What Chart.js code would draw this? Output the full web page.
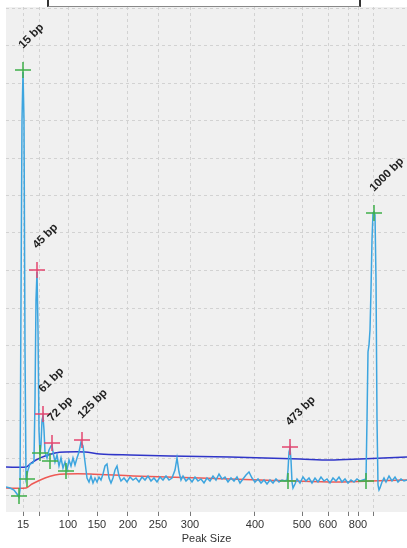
<!DOCTYPE html>
<html><head><meta charset="utf-8">
<script src="https://cdn.jsdelivr.net/npm/chart.js@4.4.1/dist/chart.umd.min.js"></script>
<style>
html,body{margin:0;padding:0;background:#fff;}
#wrap{position:relative;width:407px;height:548px;overflow:hidden;}
#box{position:absolute;left:47px;top:-10px;width:310px;height:14px;border:2px solid #333;border-bottom:1px solid #888;background:#fff;}
canvas{position:absolute;left:0;top:0;}
</style></head><body>
<div id="wrap"><canvas id="c" width="407" height="548"></canvas><div id="box"></div></div>
<script>
// Scan position (x) and signal (y) of the electropherogram trace
const traceX = [6,10,14,17,19,20,21,22,23,24,25,26,28,30,33,34,35,36,37,38,39,40,41,42,43,44,45,47,49,51,52,53,55,57,59,61,63,65,67,69,71,73,75,77,79,81,83,85,87,89,91,93,95,97,99,101,103,105,107,109,111,113,115,117,119,121,124,127,130,133,136,139,142,145,148,151,154,157,160,163,166,169,172,175,177,179,181,183,186,189,192,195,198,201,204,207,210,213,216,219,222,225,228,231,234,237,240,243,246,249,252,255,258,261,264,267,270,273,276,279,282,285,287,288,289,290,291,292,293,295,297,300,303,306,309,312,315,318,321,324,327,330,333,336,339,342,345,348,351,354,357,360,363,366,367,368,369,370,371,372,373,374,375,376,377,378,379,380,382,384,386,389,392,395,398,401,404,407];
const traceY = [25,24,22,18,15,22,212,392,440,392,162,34,42,48,49,52,112,212,240,182,82,57,67,92,96,82,60,54,62,66,67,60,50,57,46,54,44,50,42,52,46,54,47,54,60,70,66,50,34,30,36,29,34,30,35,32,38,46,48,34,29,34,42,46,36,31,34,30,35,32,34,30,35,32,36,31,34,30,35,32,36,32,34,42,54,40,32,36,31,34,30,35,31,33,29,34,31,36,32,38,33,35,30,34,31,35,29,33,37,40,34,30,33,29,32,28,32,29,33,30,32,31,32,42,60,64,52,30,24,28,33,29,35,31,34,29,34,30,35,31,33,29,34,31,35,30,33,29,32,30,33,31,32,33,92,160,167,182,222,272,299,300,297,232,92,27,22,24,30,34,30,36,31,35,30,33,31,32];
// Baselines
const upperX = [6,26,30,36,45,55,65,85,100,130,170,230,300,330,360,407];
const upperY = [45,45,48,52,56,59,60,60,58,57,56,55,53,52,53,55];
const lowerX = [6,26,32,45,55,65,90,133,200,260,330,370,407];
const lowerY = [24,24,28,34,37,38,38,36,34,32,30,31,32];
// Peak markers
const greenX = [23,374,19,27,40,50,66,288,366];
const greenY = [442,299,16,33,59,51,41,31,31];
const redX = [37,43,52,82,290];
const redY = [242,98,69,72,65];
// Peak labels
const peakLabels = ["15 bp","45 bp","61 bp","72 bp","125 bp","473 bp","1000 bp"];
const peakLabelX = [23,37,43,52,82,290,374];
const peakLabelY = [442,242,98,69,72,65,299];
// Size axis
const sizeTickPos = [23,39,68,97,128,158,190,255,302,328,348,358,373];
const sizeTickLabels = ["15","","100","150","200","250","300","400","500","600","","800",""];
const gridY = [16.5,54,91.5,129,166.5,204,241.5,279,316.5,354,391.5,429,466.5,504];

const pts = (xs, ys) => xs.map((x,i)=>({x:x,y:ys[i]}));

const bgPlugin = {
  id:'bg',
  beforeDraw(chart){
    const a = chart.chartArea, ctx = chart.ctx;
    ctx.save(); ctx.fillStyle = '#f0f0f0';
    ctx.fillRect(a.left, a.top, a.right-a.left, a.bottom-a.top);
    ctx.restore();
  }
};
const labelPlugin = {
  id:'peakLabels',
  afterDatasetsDraw(chart){
    const ctx = chart.ctx, xs = chart.scales.x, ys = chart.scales.y;
    ctx.save();
    ctx.font = 'bold 11.5px "Liberation Sans", Arial, sans-serif';
    ctx.fillStyle = '#222';
    ctx.textAlign = 'left'; ctx.textBaseline = 'alphabetic';
    peakLabels.forEach((t,i)=>{
      const px = xs.getPixelForValue(peakLabelX[i]);
      const py = ys.getPixelForValue(peakLabelY[i]);
      ctx.save();
      ctx.translate(px, py - 21);
      ctx.rotate(-Math.PI/4);
      ctx.fillText(t, 0, 0);
      ctx.restore();
    });
    ctx.restore();
  }
};

new Chart(document.getElementById('c'), {
  type:'scatter',
  data:{datasets:[
    {label:'green', data:pts(greenX,greenY), pointStyle:'cross', radius:8, borderColor:'#3faf4a', borderWidth:1.5, backgroundColor:'#3faf4a', showLine:false},
    {label:'red', data:pts(redX,redY), pointStyle:'cross', radius:8, borderColor:'#e3456f', borderWidth:1.5, backgroundColor:'#e3456f', showLine:false},
    {label:'trace', data:pts(traceX,traceY), showLine:true, borderColor:'#3da5df', borderWidth:1.5, pointRadius:0, tension:0},
    {label:'upper', data:pts(upperX,upperY), showLine:true, borderColor:'#2f35c8', borderWidth:1.5, pointRadius:0, tension:0.3},
    {label:'lower', data:pts(lowerX,lowerY), showLine:true, borderColor:'#ee5a55', borderWidth:1.5, pointRadius:0, tension:0.3}
  ]},
  options:{
    responsive:false, animation:false, devicePixelRatio:1,
    layout:{autoPadding:false, padding:{left:6, top:7, right:0, bottom:0}},
    plugins:{legend:{display:false}, tooltip:{enabled:false}},
    scales:{
      x:{type:'linear', min:6, max:407,
        afterBuildTicks(s){ s.ticks = sizeTickPos.map(v=>({value:v})); },
        afterFit(s){ s.height = 36; s.paddingLeft = 0; s.paddingRight = 0; },
        ticks:{autoSkip:false, maxRotation:0, padding:2, color:'#333', font:{family:'"Liberation Sans", Arial, sans-serif', size:11},
          callback(v){ const i = sizeTickPos.indexOf(v); return i>=0 ? sizeTickLabels[i] : ''; }},
        grid:{color:'#d2d2d2', lineWidth:1, tickLength:4, tickColor:'#777'},
        border:{display:false, dash:[3,3]},
        title:{display:true, text:'Peak Size', color:'#333', font:{family:'"Liberation Sans", Arial, sans-serif', size:11}, padding:{top:0,bottom:2}}
      },
      y:{type:'linear', min:0, max:505,
        afterBuildTicks(s){ s.ticks = gridY.map(v=>({value:v})); },
        afterFit(s){ s.width = 0; s.paddingTop = 0; s.paddingBottom = 0; },
        ticks:{display:false},
        grid:{color:'#d2d2d2', lineWidth:1, drawTicks:false},
        border:{display:false, dash:[3,3]}
      }
    }
  },
  plugins:[bgPlugin, labelPlugin]
});
</script>
</body></html>
